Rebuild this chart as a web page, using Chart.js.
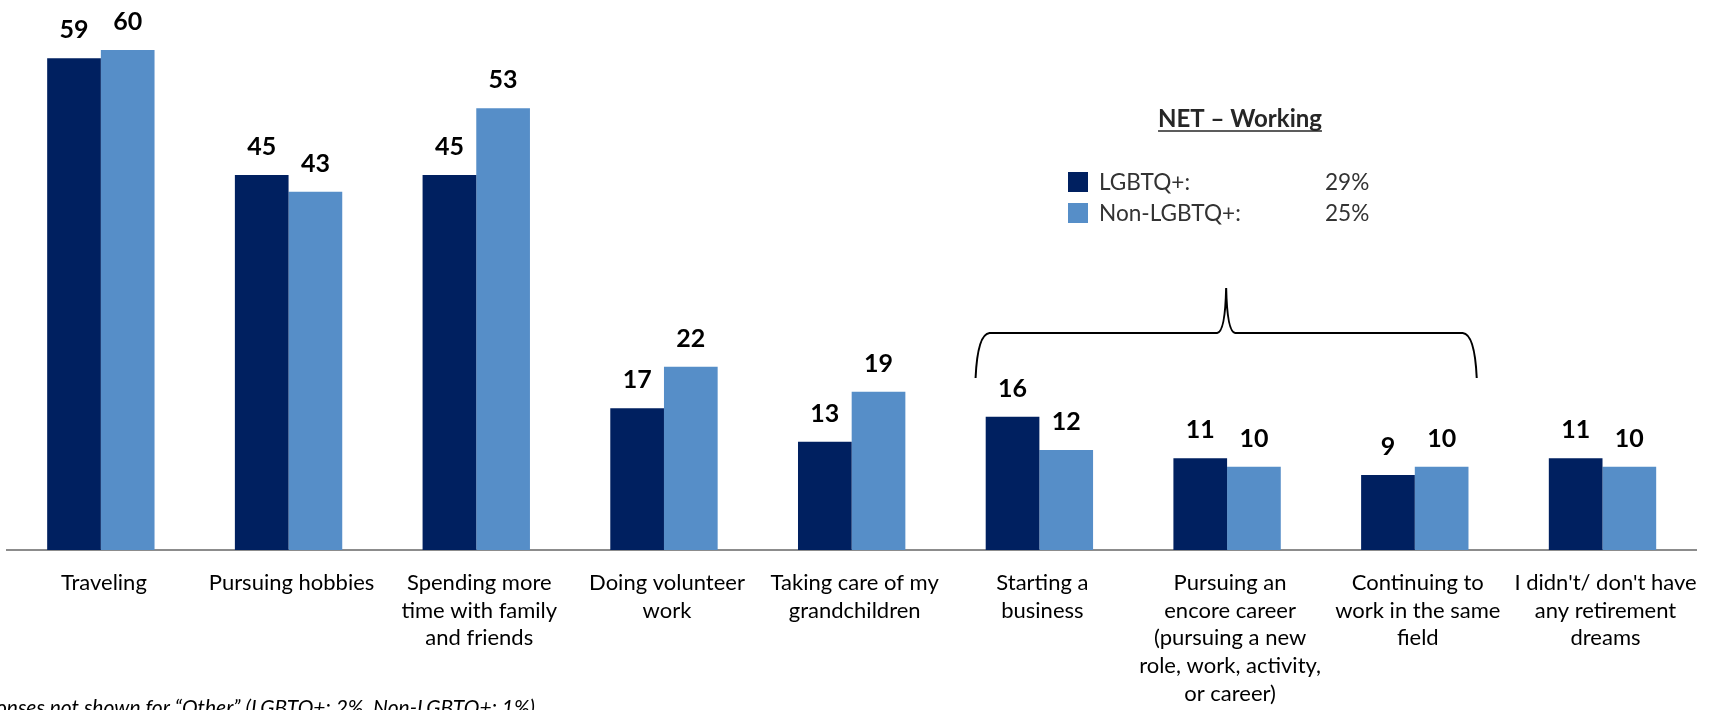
<!DOCTYPE html>
<html><head><meta charset="utf-8">
<script src="https://cdn.jsdelivr.net/npm/chart.js@4.4.1/dist/chart.umd.min.js"></script>
<style>html,body{margin:0;padding:0;background:#fff;overflow:hidden}#wrap{width:1713px;height:710px;position:relative}</style>
</head><body><div id="wrap"><canvas id="c" width="1713" height="710"></canvas></div>
<script>
const categories = [
  'Traveling',
  'Pursuing hobbies',
  ['Spending more', 'time with family', 'and friends'],
  ['Doing volunteer', 'work'],
  ['Taking care of my', 'grandchildren'],
  ['Starting a', 'business'],
  ['Pursuing an', 'encore career', '(pursuing a new', 'role, work, activity,', 'or career)'],
  ['Continuing to', 'work in the same', 'field'],
  ["I didn't/ don't have", 'any retirement', 'dreams']
];
const seriesNames = ['LGBTQ+:', 'Non-LGBTQ+:'];
const lgbtqValues = [59, 45, 45, 17, 13, 16, 11, 9, 11];
const nonLgbtqValues = [60, 43, 53, 22, 19, 12, 10, 10, 10];
const netTitle = 'NET – Working';
const netValues = [29, 25];
const netBracketRange = [5, 7];
const footnote = 'Responses not shown for “Other” (LGBTQ+: 2%, Non-LGBTQ+: 1%)';

const colors = ['#002060', '#568EC8'];
const FONT = 'Lato';

const valueLabels = {
  id: 'valueLabels',
  afterDatasetsDraw(chart) {
    const ctx = chart.ctx;
    ctx.save();
    ctx.fillStyle = '#000';
    ctx.font = 'bold 25px ' + FONT;
    ctx.textAlign = 'center';
    ctx.textBaseline = 'middle';
    chart.data.datasets.forEach((ds, di) => {
      const meta = chart.getDatasetMeta(di);
      meta.data.forEach((bar, i) => {
        ctx.fillText(String(ds.data[i]), bar.x, bar.y - 28);
      });
    });
    ctx.restore();
  }
};

const annotations = {
  id: 'annotations',
  afterDraw(chart) {
    const ctx = chart.ctx;
    const x = chart.scales.x;
    const w = x.getPixelForValue(1) - x.getPixelForValue(0);
    ctx.save();
    // NET legend
    ctx.fillStyle = '#262626';
    ctx.font = 'bold 24px ' + FONT;
    ctx.textAlign = 'center';
    ctx.textBaseline = 'middle';
    const tcx = 1240, tcy = 119;
    ctx.fillText(netTitle, tcx, tcy);
    const tw = ctx.measureText(netTitle).width;
    ctx.strokeStyle = '#262626';
    ctx.lineWidth = 1.5;
    ctx.beginPath();
    ctx.moveTo(tcx - tw / 2, 131);
    ctx.lineTo(tcx + tw / 2, 131);
    ctx.stroke();
    ctx.font = '22.6px ' + FONT;
    ctx.textAlign = 'left';
    const rows = [182, 213];
    seriesNames.forEach((n, i) => {
      ctx.fillStyle = colors[i];
      ctx.fillRect(1068, rows[i] - 10, 20, 20);
      ctx.fillStyle = '#333';
      ctx.fillText(n, 1099, rows[i] + 1);
      ctx.fillText(netValues[i] + '%', 1325, rows[i] + 1);
    });
    // brace
    const L = x.getPixelForValue(netBracketRange[0]) - 0.34 * w;
    const R = x.getPixelForValue(netBracketRange[1]) + 0.33 * w;
    const M = (L + R) / 2;
    const yb = 378, yh = 333, yt = 288;
    ctx.strokeStyle = '#000';
    ctx.lineWidth = 2;
    ctx.beginPath();
    ctx.moveTo(L, yb);
    ctx.quadraticCurveTo(L + 2, yh + 1, L + 14, yh);
    ctx.lineTo(M - 9, yh);
    ctx.quadraticCurveTo(M - 1, yh - 1, M, yt);
    ctx.quadraticCurveTo(M + 1, yh - 1, M + 9, yh);
    ctx.lineTo(R - 14, yh);
    ctx.quadraticCurveTo(R - 2, yh + 1, R, yb);
    ctx.stroke();
    // footnote
    ctx.fillStyle = '#000';
    ctx.font = 'italic 21px ' + FONT;
    ctx.textAlign = 'right';
    ctx.textBaseline = 'alphabetic';
    ctx.fillText(footnote, 535, 715);
    ctx.restore();
  }
};

function build() {
  new Chart(document.getElementById('c'), {
    type: 'bar',
    data: {
      labels: categories,
      datasets: [
        { label: seriesNames[0], data: lgbtqValues, backgroundColor: colors[0] },
        { label: seriesNames[1], data: nonLgbtqValues, backgroundColor: colors[1] }
      ]
    },
    options: {
      responsive: false,
      animation: false,
      layout: { padding: { left: 7, right: 7, top: 0, bottom: 0 } },
      datasets: { bar: { categoryPercentage: 0.572, barPercentage: 1 } },
      plugins: { legend: { display: false }, tooltip: { enabled: false } },
      scales: {
        x: {
          grid: { display: false, drawTicks: false },
          border: { display: true, color: '#8c8c8c', width: 2 },
          ticks: { color: '#000', font: { family: FONT, size: 22, lineHeight: 1.26 }, padding: 19, labelOffset: 3, maxRotation: 0, minRotation: 0, autoSkip: false },
          afterFit(s) { s.height = 160; }
        },
        y: { display: false, min: 0, max: 66 }
      }
    },
    plugins: [valueLabels, annotations]
  });
}
if (document.fonts && document.fonts.load) {
  Promise.all([document.fonts.load('22px Lato'), document.fonts.load('bold 24px Lato'), document.fonts.load('italic 20px Lato')]).then(build, build);
} else build();
</script>
</body></html>
